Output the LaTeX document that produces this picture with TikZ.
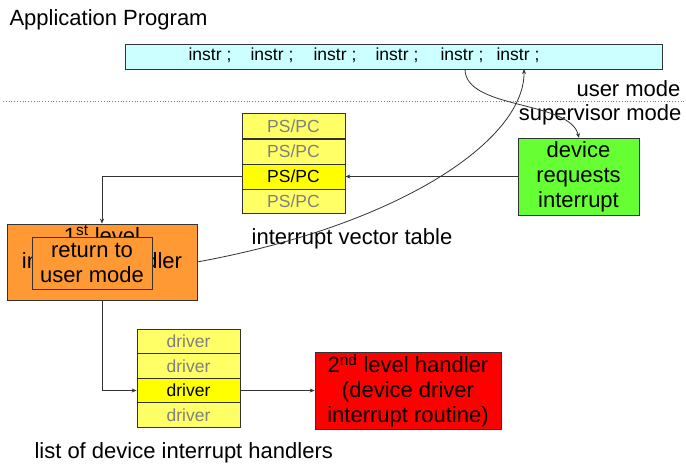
\documentclass[tikz,border=0pt]{standalone}
\usepackage{fontspec}
\setmainfont{Liberation Sans}
\usetikzlibrary{arrows.meta}
\definecolor{cyanfill}{HTML}{CCFFFF}
\definecolor{lightyel}{HTML}{FFFF66}
\definecolor{brightyel}{HTML}{FFFF00}
\definecolor{greenfill}{HTML}{66FF33}
\definecolor{orangefill}{HTML}{FF9933}
\definecolor{redfill}{HTML}{FF0000}
\definecolor{graytext}{HTML}{808080}
\definecolor{linegray}{HTML}{333333}
\tikzset{
  big/.style={font=\fontsize{22}{25}\selectfont},
  small/.style={font=\fontsize{17.5}{20}\selectfont},
  box/.style={draw=linegray, line width=0.8pt, inner sep=0pt, align=center},
  row/.style={box, minimum width=103pt, small},
  dim/.style={row, fill=lightyel, text=graytext},
  hot/.style={row, fill=brightyel, text=black},
  conn/.style={draw=linegray, line width=0.8pt, -{Stealth[length=5pt,width=4pt]}},
  plain/.style={anchor=center, big}
}
\begin{document}
\begin{tikzpicture}[x=1pt,y=-1pt]
\useasboundingbox (0,0) rectangle (686,464);
% title
\node[big, anchor=west] (title) at (6,20) {Application Program};
% program box
\node[box, fill=cyanfill, minimum width=537pt, minimum height=25pt] (prog) at (393.5,56.5) {};
\foreach \x [count=\i] in {210,272,335,397,462,518}
  \node[small] (ins\i) at (\x,55.5) {instr ;};
% mode line
\draw[graytext, dotted, line width=0.8pt] (3,101) -- (686,101);
\node[big, anchor=east] (um) at (684,89) {user mode};
\node[big, anchor=east] (sm) at (685,115) {supervisor mode};
% vector table
\node[dim, minimum height=25.5pt] (ps1) at (293.5,126) {PS/PC};
\node[dim, minimum height=25pt] (ps2) at (293.5,151.5) {PS/PC};
\node[hot, minimum height=25pt] (ps3) at (293.5,176.5) {PS/PC};
\node[dim, minimum height=24.5pt] (ps4) at (293.5,201.25) {PS/PC};
\node[big] (ivt) at (352,239) {interrupt vector table};
% device
\node[box, big, fill=greenfill, minimum width=121pt, minimum height=77pt] (dev) at (578.5,176.5) {device\\requests\\interrupt};
% first level handler
\node[box, fill=orangefill, minimum width=190pt, minimum height=76pt] (first) at (102,262) {};
\node[big, align=center] (firsttxt) at (102,249.5) {1\textsuperscript{st} level\\interrupt handler};
\node[box, big, fill=orangefill, minimum width=120pt, minimum height=52pt] (ret) at (92,263) {return to\\user mode};
% driver list
\node[dim, minimum height=24.5pt] (dr1) at (188.5,341.5) {driver};
\node[dim, minimum height=24.5pt] (dr2) at (188.5,366) {driver};
\node[hot, minimum height=24.5pt] (dr3) at (188.5,390.5) {driver};
\node[dim, minimum height=24.5pt] (dr4) at (188.5,415) {driver};
\node[big, anchor=west] (lst) at (31,453) {list of device interrupt handlers};
% second level handler
\node[box, big, fill=redfill, minimum width=186pt, minimum height=77pt] (second) at (408,390.5) {2\textsuperscript{nd} level handler\\(device driver\\interrupt routine)};
% connectors
\coordinate (irqstart) at (465,69);
\coordinate (devtop) at (579,138);
\coordinate (retend) at (524,69);
\coordinate (retstart) at (197,262);
\draw[conn] (irqstart) .. controls (465,110) and (570,100) .. (devtop);
\draw[conn] (retstart) .. controls (400,225) and (525,140) .. (retend);
\draw[conn] (dev.west) -- (ps3.east);
\draw[conn] (ps3.west) -| (first.north);
\draw[conn] (first.south) |- (dr3.west);
\draw[conn] (dr3.east) -- (second.west);
\end{tikzpicture}
\end{document}
